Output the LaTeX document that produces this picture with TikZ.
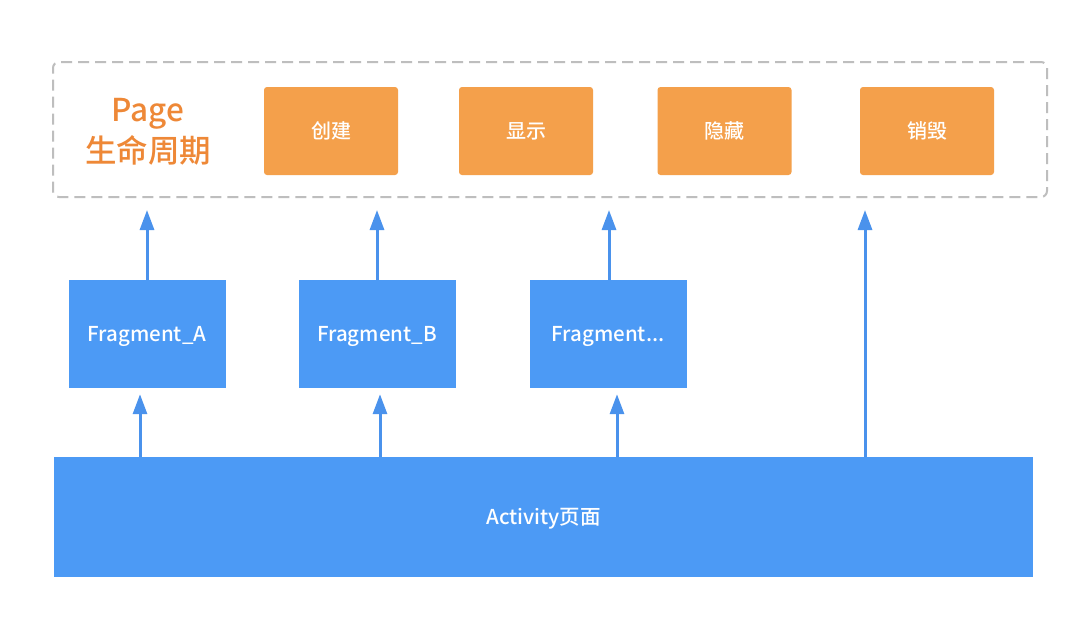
\documentclass[tikz,border=0pt]{standalone}
\usepackage{fontspec}
\setmainfont{Noto Sans CJK SC}
\newfontfamily\medfont{Noto Sans CJK SC Medium}
\usetikzlibrary{arrows.meta}
\definecolor{blueBox}{HTML}{4C9AF5}
\definecolor{blueArr}{HTML}{4A92EC}
\definecolor{orangeBox}{HTML}{F4A04B}
\definecolor{orangeTxt}{HTML}{EE8837}
\definecolor{dashGray}{HTML}{BEBEBE}
\tikzset{
  stagebox/.style={draw=none, fill=orangeBox, rounded corners=3pt, minimum width=134pt, minimum height=88pt, text=white, font=\medfont\fontsize{20}{22}\selectfont, inner sep=0pt, text height=15pt, text depth=0pt},
  fragbox/.style={draw=none, fill=blueBox, minimum width=157pt, minimum height=108pt, text=white, font=\medfont\fontsize{20.5}{22}\selectfont, inner sep=0pt, text height=15pt, text depth=0pt},
  arr/.style={draw=blueArr, line width=3pt, -{Triangle[width=14pt,length=20pt]}},
}
\begin{document}
\begin{tikzpicture}[x=1pt,y=-1pt]
\useasboundingbox (0,0) rectangle (1080,622);
\fill[white] (0,0) rectangle (1080,622);
% dashed lifecycle frame
\node[draw=dashGray, line width=2pt, dash pattern=on 11pt off 6pt, rounded corners=6pt, minimum width=994pt, minimum height=135pt, inner sep=0pt] (page) at (550,129.5) {};
\node[text=orangeTxt, font=\medfont\fontsize{31.5}{41}\selectfont, align=center, inner sep=0pt] (title) at (148,132) {Page\\生命周期};
\node[stagebox] (s1) at (331,131) {创建};
\node[stagebox] (s2) at (526,131) {显示};
\node[stagebox] (s3) at (724.5,131) {隐藏};
\node[stagebox] (s4) at (927,131) {销毁};
% fragments
\node[fragbox] (fa) at (147,334) {Fragment\_A};
\node[fragbox] (fb) at (377,334) {Fragment\_B};
\node[fragbox] (fc) at (608,334) {Fragment...};
% activity
\node[fill=blueBox, minimum width=979pt, minimum height=120pt, inner sep=0pt, text=white, font=\medfont\fontsize{20.5}{22}\selectfont, text height=15pt, text depth=0pt] (act) at (543.5,517) {Activity页面};
% arrows activity -> fragments
\draw[arr, shorten >=6pt] ([xshift=-7pt]fa.south |- act.north) -- ([xshift=-7pt]fa.south);
\draw[arr, shorten >=6pt] ([xshift=3pt]fb.south |- act.north) -- ([xshift=3pt]fb.south);
\draw[arr, shorten >=6pt] ([xshift=9pt]fc.south |- act.north) -- ([xshift=9pt]fc.south);
% arrows fragments -> page frame
\draw[arr, shorten >=12pt] (fa.north) -- (fa.north |- page.south);
\draw[arr, shorten >=12pt] (fb.north) -- (fb.north |- page.south);
\draw[arr, shorten >=12pt] ([xshift=1pt]fc.north) -- ([xshift=1pt]fc.north |- page.south);
\draw[arr, shorten >=12pt] ([xshift=321.5pt]act.north) -- ([xshift=321.5pt]act.north |- page.south);
\end{tikzpicture}
\end{document}
